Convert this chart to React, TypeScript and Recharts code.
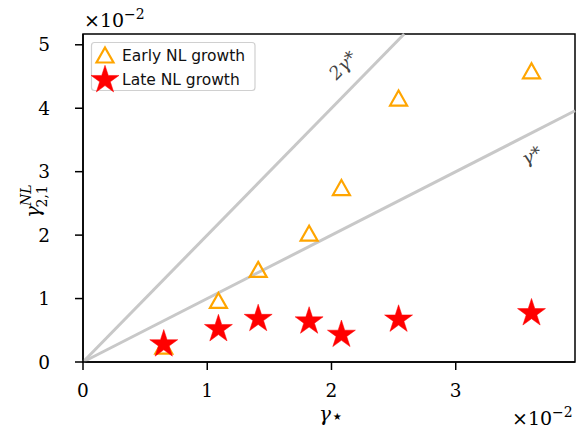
import {
  ReferenceArea,
  ReferenceDot,
  ReferenceLine,
  Scatter,
  ScatterChart,
  XAxis,
  YAxis,
} from "recharts";

// values in units of 1e-2
const gammaStar = [0.65, 1.09, 1.41, 1.82, 2.08, 2.54, 3.61];
const earlyNL = [0.25, 0.97, 1.46, 2.03, 2.75, 4.16, 4.59];
const lateNL = [0.28, 0.52, 0.68, 0.64, 0.43, 0.67, 0.77];
const xTicks = [0, 1, 2, 3];
const yTicks = [0, 1, 2, 3, 4, 5];
const guideSlopes = [1, 2];
const guideLabels = ["γ*", "2γ*"];
const guideLabelPos = [
  { x: 3.61, y: 3.26 },
  { x: 2.09, y: 4.68 },
];

const X_MAX = 3.96;
const Y_MAX = 5.17;

const earlyData = gammaStar.map((x, i) => ({ x, y: earlyNL[i] }));
const lateData = gammaStar.map((x, i) => ({ x, y: lateNL[i] }));

const serif = "DejaVu Serif";
const sans = "DejaVu Sans";

const starPath = (cx: number, cy: number, R: number) => {
  const r = R * 0.381966;
  const pts: string[] = [];
  for (let k = 0; k < 10; k++) {
    const rad = k % 2 === 0 ? R : r;
    const a = (Math.PI / 5) * k - Math.PI / 2;
    pts.push(`${cx + rad * Math.cos(a)},${cy + rad * Math.sin(a)}`);
  }
  return `M${pts.join("L")}Z`;
};

const Star = (p: any) => (
  <path d={starPath(p.cx, p.cy, 14.7)} fill="#ff0000" stroke="#ff0000" strokeWidth={0.5} />
);

const Triangle = (p: any) => {
  const { cx, cy } = p;
  return (
    <path
      d={`M${cx},${cy - 7.5}L${cx + 8.5},${cy + 7.5}L${cx - 8.5},${cy + 7.5}Z`}
      fill="none"
      stroke="#ffa500"
      strokeWidth={2.2}
    />
  );
};

const XTick = (p: any) => (
  <text
    x={p.x}
    y={p.y + 25}
    textAnchor="middle"
    style={{ fontFamily: serif, fontSize: 18.5 }}
    fill="#000"
  >
    {p.payload.value}
  </text>
);

const YTick = (p: any) => (
  <text
    x={p.x - 23}
    y={p.y + 6.5}
    textAnchor="end"
    style={{ fontFamily: serif, fontSize: 18.5 }}
    fill="#000"
  >
    {p.payload.value}
  </text>
);

const YLabel = () => {
  const cx = 40;
  const cy = 198;
  return (
    <text
      transform={`rotate(-90 ${cx} ${cy})`}
      x={cx - 20}
      y={cy}
      style={{ fontFamily: serif, fontSize: 20 }}
      fill="#000"
    >
      <tspan style={{ fontStyle: "italic" }}>γ</tspan>
      <tspan style={{ fontSize: 14, fontStyle: "italic" }} dy={-9}>NL</tspan>
      <tspan style={{ fontSize: 14 }} dx={-23} dy={16}>2,1</tspan>
    </text>
  );
};

const XLabel = () => (
  <text x={319} y={421} style={{ fontFamily: serif, fontSize: 20 }} fill="#000">
    <tspan style={{ fontStyle: "italic" }}>γ</tspan>
    <tspan style={{ fontSize: 20, fontFamily: sans }} dy={2}>⋆</tspan>
  </text>
);

const Exponent = ({ x, y }: { x: number; y: number }) => (
  <text x={x} y={y} style={{ fontFamily: serif, fontSize: 19 }} fill="#000">
    ×10
    <tspan style={{ fontSize: 14 }} dy={-8}>−2</tspan>
  </text>
);

const App = () => {
  return (
    <div style={{ position: "absolute", left: 0, top: 0, width: 585, height: 430, background: "#fff" }}>
      <ScatterChart
        width={585}
        height={430}
        margin={{ top: 34, right: 10, bottom: 38, left: 23 }}
      >
        <XAxis
          type="number"
          dataKey="x"
          domain={[0, X_MAX]}
          ticks={xTicks}
          allowDataOverflow
          height={30}
          tickSize={8}
          axisLine={{ stroke: "#000", strokeWidth: 1.5 }}
          tickLine={{ stroke: "#000", strokeWidth: 1.5 }}
          tick={<XTick />}
        />
        <YAxis
          type="number"
          dataKey="y"
          domain={[0, Y_MAX]}
          ticks={yTicks}
          allowDataOverflow
          width={60}
          tickSize={8}
          axisLine={{ stroke: "#000", strokeWidth: 1.5 }}
          tickLine={{ stroke: "#000", strokeWidth: 1.5 }}
          tick={<YTick />}
        />
        <ReferenceArea
          x1={0}
          x2={X_MAX}
          y1={0}
          y2={Y_MAX}
          fill="none"
          stroke="#000"
          strokeWidth={1.5}
          fillOpacity={0}
          ifOverflow="visible"
        />
        {guideSlopes.map((s) => {
          const xe = Math.min(X_MAX, Y_MAX / s);
          return (
            <ReferenceLine
              key={`g${s}`}
              segment={[
                { x: 0, y: 0 },
                { x: xe, y: s * xe },
              ]}
              stroke="#c8c8c8"
              strokeWidth={3}
              ifOverflow="visible"
            />
          );
        })}
        {guideLabels.map((lab, i) => (
          <ReferenceDot
            key={lab}
            x={guideLabelPos[i].x}
            y={guideLabelPos[i].y}
            r={1}
            ifOverflow="visible"
            shape={(p: any) => (
              <text
                x={p.cx}
                y={p.cy}
                textAnchor="middle"
                dominantBaseline="central"
                transform={`rotate(${i === 0 ? -27 : -46} ${p.cx} ${p.cy})`}
                style={{ fontFamily: serif, fontStyle: "italic", fontSize: 18 }}
                fill="#444"
              >
                {lab}
              </text>
            )}
          />
        ))}
        <Scatter data={earlyData} shape={Triangle} isAnimationActive={false} />
        <Scatter data={lateData} shape={Star} isAnimationActive={false} />
      </ScatterChart>
      <svg
        width={585}
        height={430}
        style={{ position: "absolute", left: 0, top: 0, pointerEvents: "none" }}
      >
        <Exponent x={84} y={27} />
        <Exponent x={512} y={425} />
        <YLabel />
        <XLabel />
        <rect
          x={91.5}
          y={42.5}
          width={163.5}
          height={48}
          rx={3}
          fill="#fff"
          fillOpacity={0.8}
          stroke="#d0d0d0"
          strokeWidth={1.2}
        />
        <Triangle cx={105} cy={55} />
        <text x={122} y={61} style={{ fontFamily: sans, fontSize: 15.5 }} fill="#111">
          Early NL growth
        </text>
        <Star cx={105} cy={80} />
        <text x={122} y={85} style={{ fontFamily: sans, fontSize: 15.5 }} fill="#111">
          Late NL growth
        </text>
      </svg>
    </div>
  );
};

export default App;
